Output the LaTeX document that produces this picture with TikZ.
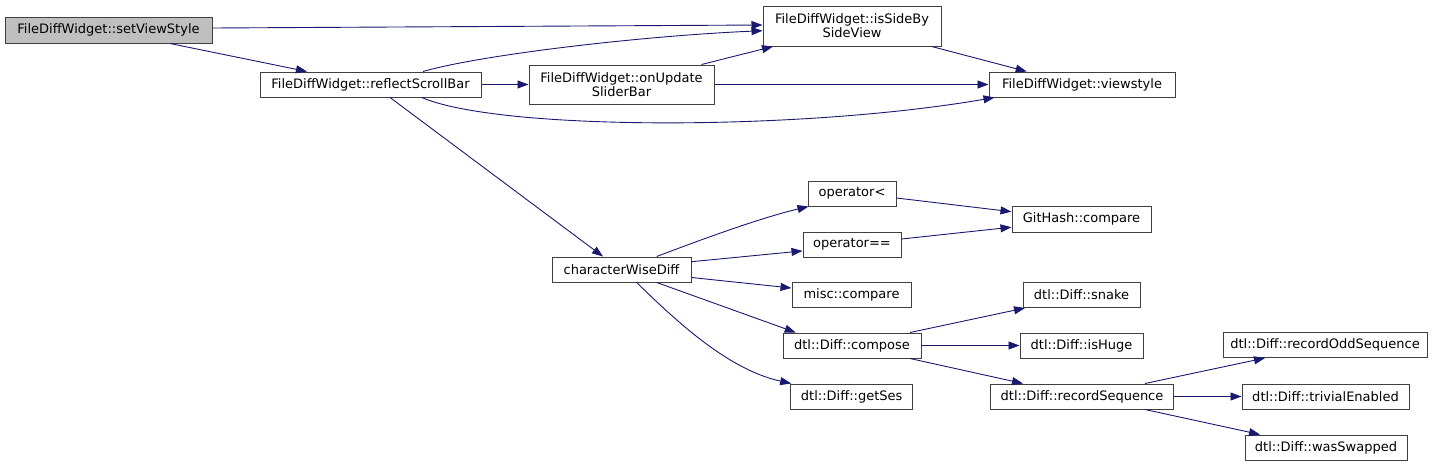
\documentclass[tikz,border=0pt]{standalone}
\usepackage{fontspec}
\setmainfont{DejaVu Sans}
\usetikzlibrary{arrows.meta}
\definecolor{edgec}{HTML}{191970}
\definecolor{boxc}{HTML}{404040}
\definecolor{grayf}{HTML}{BFBFBF}
\tikzset{
  fn/.style={draw=boxc, line width=1pt, fill=white, inner sep=0pt, align=center,
    font=\fontsize{13}{14}\selectfont, minimum height=25pt},
  cur/.style={fn, fill=grayf},
  call/.style={draw=edgec, line width=0.9pt, -{Triangle[length=11pt,width=8pt]}, color=edgec}
}
\begin{document}
\begin{tikzpicture}[x=1pt,y=-1pt]
\useasboundingbox (0,0) rectangle (1436,466);
% nodes
\node[cur, minimum width=207pt, minimum height=26pt] (svs) at (108.5,30) {FileDiffWidget::setViewStyle};
\node[fn, minimum width=221pt] (rsb) at (370.5,84.5) {FileDiffWidget::reflectScrollBar};
\node[fn, minimum width=178pt, minimum height=40pt] (isb) at (852,26) {FileDiffWidget::isSideBy\\SideView};
\node[fn, minimum width=185pt, minimum height=39pt] (ous) at (621.5,84.5) {FileDiffWidget::onUpdate\\SliderBar};
\node[fn, minimum width=186pt] (vs) at (1082,84.5) {FileDiffWidget::viewstyle};
\node[fn, minimum width=139pt] (cwd) at (621.5,269.5) {characterWiseDiff};
\node[fn, minimum width=88pt] (olt) at (852,193.5) {operator<};
\node[fn, minimum width=98pt] (oeq) at (852,244.5) {operator==};
\node[fn, minimum width=119pt] (mc) at (851.5,295) {misc::compare};
\node[fn, minimum width=138pt] (cmp) at (852,345.5) {dtl::Diff::compose};
\node[fn, minimum width=122pt] (gs) at (851.7,396.5) {dtl::Diff::getSes};
\node[fn, minimum width=117pt] (snk) at (1081.5,295) {dtl::Diff::snake};
\node[fn, minimum width=123pt] (ih) at (1081.5,345.5) {dtl::Diff::isHuge};
\node[fn, minimum width=183pt] (rs) at (1082,396.5) {dtl::Diff::recordSequence};
\node[fn, minimum width=139pt, minimum height=26pt] (gh) at (1081.5,219) {GitHash::compare};
\node[fn, minimum width=204pt] (ros) at (1325,345) {dtl::Diff::recordOddSequence};
\node[fn, minimum width=167pt] (te) at (1325.5,396.5) {dtl::Diff::trivialEnabled};
\node[fn, minimum width=162pt] (ws) at (1326,447.5) {dtl::Diff::wasSwapped};
% edges
\draw[call] ([yshift=2pt]svs.east) -- ([yshift=1pt]isb.west);
\draw[call] ([xshift=61.5pt]svs.south) -- ([xshift=-63.5pt]rsb.north);
\draw[call] ([xshift=52.5pt]rsb.north) .. controls (480,55) and (640,36) .. ([yshift=-4.7pt]isb.west);
\draw[call] (rsb.east) -- (ous.west);
\draw[call] ([xshift=51.2pt]rsb.south) .. controls (500,131) and (800,131) .. ([xshift=6pt]vs.south west);
\draw[call] ([xshift=80pt]ous.north) -- ([xshift=-79pt]isb.south);
\draw[call] (ous.east) -- (vs.west);
\draw[call] ([xshift=79.7pt]isb.south) -- ([xshift=-55.3pt]vs.north);
\draw[call] ([xshift=19.5pt]rsb.south) -- ([xshift=-18.5pt]cwd.north);
\draw[call] ([xshift=35.2pt]cwd.north) .. controls (700,240) and (760,218) .. ([xshift=1pt]olt.south west);
\draw[call] ([yshift=7.8pt]cwd.east) -- ([yshift=6.6pt]oeq.south west);
\draw[call] ([yshift=5pt]cwd.south east) -- ([yshift=7pt]mc.west);
\draw[call] ([xshift=35.2pt]cwd.south) -- ([xshift=-56.3pt]cmp.north);
\draw[call] ([xshift=15.2pt]cwd.south) .. controls (680,325) and (730,370) .. ([xshift=1pt]gs.north west);
\draw[call] ([yshift=-4.5pt]olt.east) -- ([yshift=7.3pt]gh.west);
\draw[call] ([yshift=5.5pt]oeq.east) -- ([yshift=5.3pt]gh.south west);
\draw[call] ([xshift=58pt]cmp.north) -- ([xshift=-56.5pt]snk.south);
\draw[call] (cmp.east) -- (ih.west);
\draw[call] ([xshift=58pt]cmp.south) -- ([xshift=-59pt]rs.north);
\draw[call] ([xshift=63pt]rs.north) -- ([xshift=-60pt]ros.south);
\draw[call] (rs.east) -- (te.west);
\draw[call] ([xshift=63pt]rs.south) -- ([xshift=-66pt]ws.north);
\end{tikzpicture}
\end{document}
